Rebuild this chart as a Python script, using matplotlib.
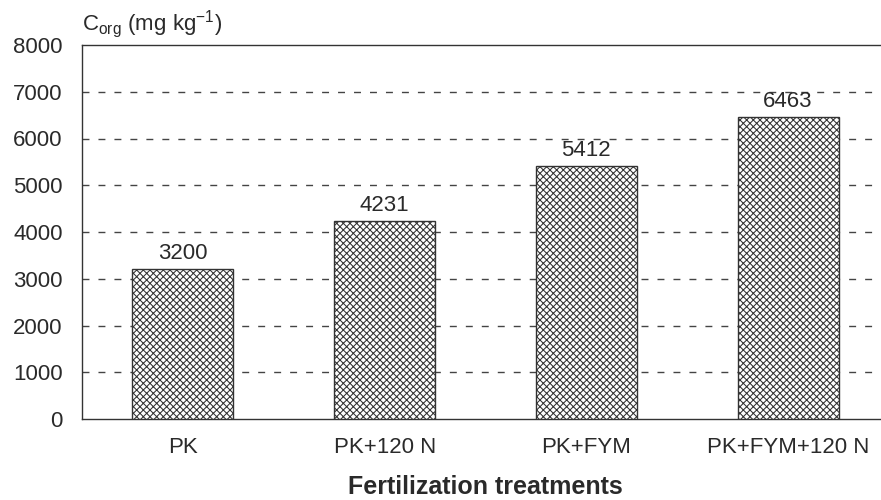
import matplotlib
matplotlib.use("Agg")
import matplotlib.pyplot as plt

plt.rcParams['font.family'] = ['Liberation Sans', 'DejaVu Sans']
plt.rcParams['hatch.color'] = '#b0b0b0'
plt.rcParams['hatch.linewidth'] = 0.75

# data
treatments = ['PK', 'PK+120 N', 'PK+FYM', 'PK+FYM+120 N']
corg = [3200, 4231, 5412, 6463]
yticks = [0, 1000, 2000, 3000, 4000, 5000, 6000, 7000, 8000]

fig = plt.figure(figsize=(8.81, 5.0), dpi=100)
ax = fig.add_axes([82 / 881, 1 - 419 / 500, 807 / 881, 374 / 500])

x = range(len(treatments))
bars = ax.bar(x, corg, width=0.5, color='white', edgecolor='#333333',
              linewidth=1.0, hatch='xxxxx', zorder=3)

for xi, v in zip(x, corg):
    ax.text(xi, v + 110, str(v), ha='center', va='bottom', fontsize=16, color='#2a2a2a')

ax.set_xlim(-0.5, 3.5)
ax.set_ylim(0, 8000)
ax.set_yticks(yticks)
ax.set_xticks(list(x))
ax.set_xticklabels(treatments)
ax.tick_params(axis='both', length=0, labelsize=16, colors='#2a2a2a')
ax.tick_params(axis='x', pad=13)
ax.tick_params(axis='y', pad=14)

for y in yticks[1:-1]:
    ax.axhline(y, color='#444444', linestyle=(0, (5, 6.5)), linewidth=1.0, zorder=1)

for side in ['left', 'top', 'bottom']:
    ax.spines[side].set_color('#333333')
    ax.spines[side].set_linewidth(1.0)
ax.spines['right'].set_visible(False)

ax.set_xlabel('Fertilization treatments', fontsize=18, fontweight='bold', labelpad=12,
              color='#2a2a2a')
fig.text(82 / 881, 1 - 24 / 500, r'C$_{\mathregular{org}}$ (mg kg$^{\mathregular{-1}}$)',
         fontsize=16, ha='left', va='center', color='#2a2a2a')

fig.savefig('out.png', dpi=100)
